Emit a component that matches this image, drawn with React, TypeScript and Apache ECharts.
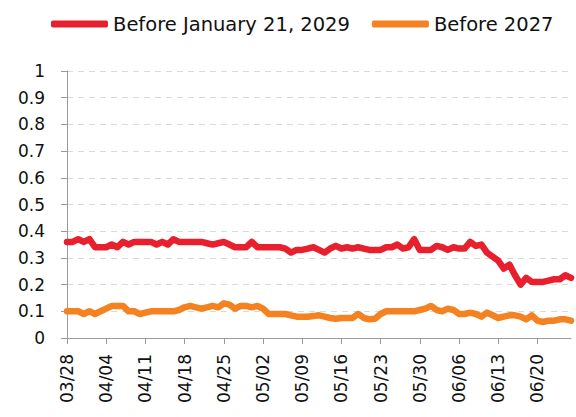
import React, { useEffect, useRef } from "react";
import * as echarts from "echarts";

const startDate = { year: 2025, month: 3, day: 28 };
const dayCount = 91;

const seriesNames = ["Before January 21, 2029", "Before 2027"];

const before2029 = [
  0.36, 0.36, 0.37, 0.36, 0.37, 0.34, 0.34, 0.34, 0.35, 0.34,
  0.36, 0.35, 0.36, 0.36, 0.36, 0.36, 0.35, 0.36, 0.35, 0.37,
  0.36, 0.36, 0.36, 0.36, 0.36, 0.355, 0.35, 0.355, 0.36, 0.35,
  0.34, 0.34, 0.34, 0.36, 0.34, 0.34, 0.34, 0.34, 0.34, 0.335,
  0.32, 0.33, 0.33, 0.335, 0.34, 0.33, 0.32, 0.335, 0.345, 0.335,
  0.34, 0.335, 0.34, 0.335, 0.33, 0.33, 0.33, 0.34, 0.34, 0.35,
  0.335, 0.34, 0.37, 0.33, 0.33, 0.33, 0.345, 0.34, 0.33, 0.34,
  0.335, 0.335, 0.36, 0.345, 0.35, 0.32, 0.305, 0.29, 0.26, 0.275,
  0.235, 0.2, 0.225, 0.21, 0.21, 0.21, 0.215, 0.22, 0.22, 0.235,
  0.225,
];

const before2027 = [
  0.1, 0.1, 0.1, 0.09, 0.1, 0.09, 0.1, 0.11, 0.12, 0.12,
  0.12, 0.1, 0.1, 0.09, 0.095, 0.1, 0.1, 0.1, 0.1, 0.1,
  0.105, 0.115, 0.12, 0.115, 0.11, 0.115, 0.12, 0.115, 0.13, 0.125,
  0.11, 0.12, 0.12, 0.115, 0.12, 0.11, 0.09, 0.09, 0.09, 0.09,
  0.085, 0.08, 0.08, 0.08, 0.082, 0.085, 0.08, 0.075, 0.072, 0.075,
  0.075, 0.075, 0.09, 0.075, 0.07, 0.072, 0.09, 0.1, 0.1, 0.1,
  0.1, 0.1, 0.1, 0.105, 0.11, 0.12, 0.105, 0.1, 0.11, 0.105,
  0.09, 0.09, 0.095, 0.09, 0.08, 0.095, 0.085, 0.075, 0.08, 0.085,
  0.085, 0.08, 0.07, 0.085, 0.065, 0.06, 0.065, 0.065, 0.07, 0.07,
  0.065,
];

const colors = ["#E8202E", "#F58220"];

function buildDates(): string[] {
  const out: string[] = [];
  const d = new Date(startDate.year, startDate.month - 1, startDate.day);
  for (let i = 0; i < dayCount; i++) {
    const mm = String(d.getMonth() + 1).padStart(2, "0");
    const dd = String(d.getDate()).padStart(2, "0");
    out.push(`${mm}/${dd}`);
    d.setDate(d.getDate() + 1);
  }
  return out;
}

const FONT = "DejaVu Sans";

export default function App() {
  const ref = useRef<HTMLDivElement>(null);
  useEffect(() => {
    if (!ref.current) return;
    const chart = echarts.init(ref.current, undefined, { renderer: "svg" });
    const dates = buildDates();
    chart.setOption({
      animation: false,
      backgroundColor: "#ffffff",
      textStyle: { fontFamily: FONT },
      legend: {
        left: 46,
        top: 9,
        itemWidth: 57,
        itemHeight: 7,
        itemGap: 22,
        icon: "roundRect",
        textStyle: { fontFamily: FONT, fontSize: 19.5, color: "#111" },
        data: seriesNames,
      },
      grid: { left: 67, right: 5, top: 71, bottom: 79, containLabel: false },
      xAxis: {
        type: "category",
        boundaryGap: false,
        data: dates,
        axisLine: { lineStyle: { color: "#9a9a9a", width: 1 } },
        axisTick: { show: true, interval: 6, length: 6, lineStyle: { color: "#9a9a9a" } },
        axisLabel: {
          interval: 6,
          rotate: 90,
          margin: 16,
          fontFamily: FONT,
          fontSize: 17,
          color: "#111",
        },
        splitLine: { show: false },
      },
      yAxis: {
        type: "value",
        min: 0,
        max: 1,
        interval: 0.1,
        axisLine: { show: true, lineStyle: { color: "#9a9a9a", width: 1 } },
        axisTick: { show: true, length: 6, lineStyle: { color: "#9a9a9a" } },
        axisLabel: {
          margin: 22,
          fontFamily: FONT,
          fontSize: 17,
          color: "#111",
        },
        splitLine: { show: true, lineStyle: { color: "#d9d9d9", type: [6, 5], width: 1 } },
      },
      series: [
        {
          name: seriesNames[0],
          type: "line",
          data: before2029,
          showSymbol: false,
          symbol: "none",
          color: colors[0],
          lineStyle: { width: 6.5, color: colors[0], cap: "round", join: "round" },
        },
        {
          name: seriesNames[1],
          type: "line",
          data: before2027,
          showSymbol: false,
          symbol: "none",
          color: colors[1],
          lineStyle: { width: 6.5, color: colors[1], cap: "round", join: "round" },
        },
      ],
    });
    return () => chart.dispose();
  }, []);
  return (
    <div
      ref={ref}
      style={{ position: "absolute", left: 0, top: 0, width: 576, height: 417 }}
    />
  );
}
